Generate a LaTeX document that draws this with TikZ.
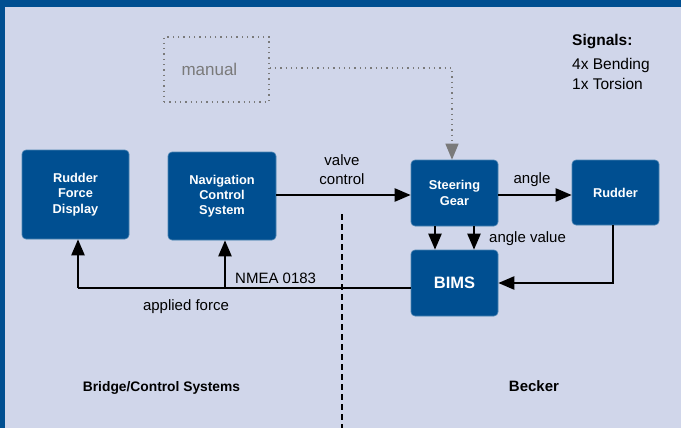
\documentclass[tikz,border=0pt]{standalone}
\usepackage{fontspec}
\setmainfont{Liberation Sans}
\usetikzlibrary{arrows.meta}
\definecolor{bg}{HTML}{D0D6EA}
\definecolor{bblue}{HTML}{004F91}
\definecolor{mgray}{HTML}{7A7A7A}
\tikzset{
  box/.style={draw=bblue!70!white, line width=0.6pt, fill=bblue, rounded corners=4pt, text=white, font=\bfseries\fontsize{12.8}{15.3}\selectfont, align=center, inner sep=0pt},
  tip/.style={-{Triangle[length=16pt,width=13pt]}},
  arr/.style={line width=2.2pt, tip},
  ln/.style={line width=2.2pt},
  lbl/.style={font=\fontsize{15}{19}\selectfont, align=center, inner sep=0pt},
  dotbox/.style={draw=mgray, line width=1.3pt, dash pattern=on 1.3pt off 4pt, inner sep=0pt},
  dotarr/.style={draw=mgray, line width=1.3pt, dash pattern=on 1.3pt off 4pt, tip, mgray},
}
\begin{document}
\begin{tikzpicture}[x=1pt,y=-1pt]
\useasboundingbox (0,0) rectangle (681,428);
\fill[bg] (0,0) rectangle (681,428);
\fill[bblue] (0,0) rectangle (681,7);
\fill[bblue] (0,0) rectangle (5,428);

\node[box, minimum width=107pt, minimum height=89pt] (RFD) at (75.5,194.5) {Rudder\\Force\\Display};
\node[box, minimum width=108pt, minimum height=88pt] (NCS) at (222,196) {Navigation\\Control\\System};
\node[box, minimum width=87pt, minimum height=66pt] (SG) at (454.5,193) {Steering\\Gear};
\node[box, minimum width=87pt, minimum height=65pt] (RUD) at (615.5,192.5) {Rudder};
\node[box, minimum width=87pt, minimum height=66pt, font=\bfseries\fontsize{16.5}{20}\selectfont] (BIMS) at (454.5,283) {BIMS};
\node[dotbox, minimum width=105pt, minimum height=65pt, text=mgray, font=\fontsize{17}{19}\selectfont] (MAN) at (216.5,69.5) {\makebox[70pt][l]{manual}};

% dashed separator
\coordinate (D1) at (342,214);
\coordinate (D2) at (342,428);
\draw[line width=2pt, dash pattern=on 6pt off 4pt] (D1) -- (D2);

% manual -> steering gear
\coordinate (M1) at (452,68);
\draw[dotarr] (MAN.east |- M1) -- (M1) -- (SG.north -| M1);

% valve control
\coordinate (V) at (0,195);
\draw[arr] (NCS.east |- V) -- (SG.west |- V);
\node[lbl] (VC) at (342,169.5) {valve\\control};

% angle
\draw[arr] (SG.east |- V) -- (RUD.west |- V);
\node[lbl] (ANG) at (532,180) {angle};

% angle value arrows
\coordinate (A1) at (435,0);
\coordinate (A2) at (474,0);
\draw[arr] (SG.south -| A1) -- (BIMS.north -| A1);
\draw[arr] (SG.south -| A2) -- (BIMS.north -| A2);
\node[lbl, anchor=west] (AV) at (489,239) {angle value};

% rudder -> BIMS
\coordinate (R1) at (613,283);
\draw[arr] (RUD.south -| R1) -- (R1) -- (BIMS.east |- R1);

% BIMS -> displays
\coordinate (J) at (78,288);
\coordinate (K) at (225,288);
\draw[ln] (BIMS.west |- J) -- (K) -- (J);
\draw[arr] (J) -- (RFD.south -| J);
\draw[arr] (K) -- (NCS.south -| K);
\node[lbl, anchor=west] (NMEA) at (235,278) {NMEA 0183};
\node[lbl, anchor=base] (AF) at (186,310) {applied force};

% region labels
\node[font=\bfseries\fontsize{13.8}{14}\selectfont, anchor=base, inner sep=0pt] (BCS) at (161.5,391) {Bridge/Control Systems};
\node[font=\bfseries\fontsize{15}{16}\selectfont, anchor=base, inner sep=0pt] (BEC) at (534,391) {Becker};

% signals
\node[font=\bfseries\fontsize{15.5}{16}\selectfont, anchor=base west, inner sep=0pt] (SIG) at (572,46) {Signals:};
\node[font=\fontsize{15.5}{16}\selectfont, anchor=base west, inner sep=0pt] (SIG1) at (572,70) {4x Bending};
\node[font=\fontsize{15.5}{16}\selectfont, anchor=base west, inner sep=0pt] (SIG2) at (572,90) {1x Torsion};
\end{tikzpicture}
\end{document}
